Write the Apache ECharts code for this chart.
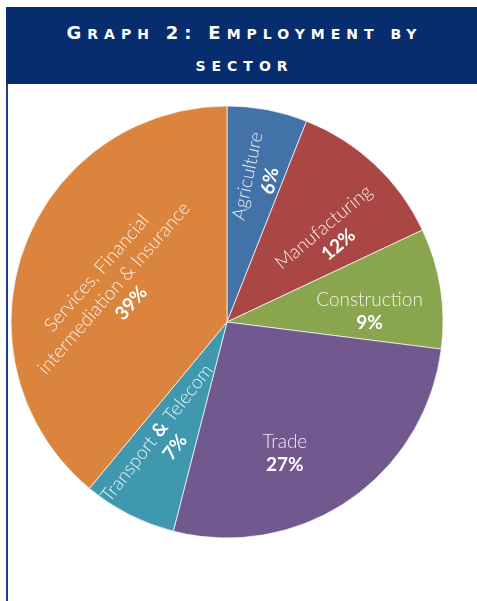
<!DOCTYPE html>
<html>
<head>
<meta charset="utf-8">
<script src="https://cdn.jsdelivr.net/npm/echarts@6/dist/echarts.min.js"></script>
<style>
  body { margin: 0; background: #fff; }
  #head {
    position: absolute; left: 6px; top: 7px; width: 471px; height: 77px;
    box-sizing: border-box; padding-top: 10px; padding-left: 6px;
    background: #082d6e; color: #fff; text-align: center;
    font-family: "DejaVu Sans"; font-weight: bold;
    font-size: 14px; text-transform: uppercase; letter-spacing: 6px; line-height: 32px;
  }
  #head .c { font-size: 18px; }
  #edge { position: absolute; left: 6px; top: 84px; width: 2px; height: 517px; background: #1a3f8f; }
  #main { position: absolute; left: 0; top: 0; width: 477px; height: 601px; }
</style>
</head>
<body>
<div id="main"></div>
<div id="head"><span class="c">G</span>raph <span class="c">2:</span> <span class="c">E</span>mployment by<br>sector</div>
<div id="edge"></div>
<script>
// sectors, clockwise from the top
var sectors = ['Agriculture', 'Manufacturing', 'Construction', 'Trade', 'Transport & Telecom', 'Services, Financial intermediation & Insurance'];
var shares = [6, 12, 9, 27, 7, 39];
var colors = ['#4272a8', '#aa4644', '#89a54e', '#71588f', '#4098af', '#db843d'];
// label text lines (rich text) for each slice
var nameLines = [
  ['{n|Agriculture}'],
  ['{n|Manufacturing}'],
  ['{n|Construction}'],
  ['{n|Trade}'],
  ['{n|Transport }{b|&}{n| Telecom}'],
  ['{n|Services, Financial}', '{n|intermediation & Insurance}']
];
// label placement: rotation, angle (deg clockwise from top) and distance from centre
var labelRotate = [78, 40, 0, 0, 52, 49];
var labelAngle = [12.5, 50.4, 85.6, 156.3, 207.3, 286.7];
var labelDist = [147, 135, 143, 144, 133, 118];

var CX = 227, CY = 322;

var chart = echarts.init(document.getElementById('main'));

var data = sectors.map(function (s, i) {
  return {
    name: s,
    value: shares[i],
    itemStyle: { color: colors[i] },
    label: { rotate: labelRotate[i] }
  };
});

chart.setOption({
  animation: false,
  series: [{
    type: 'pie',
    center: [CX, CY],
    radius: [0, 216],
    startAngle: 90,
    clockwise: true,
    data: data,
    itemStyle: { borderColor: 'rgba(255,255,255,0.7)', borderWidth: 1 },
    emphasis: { disabled: true },
    label: {
      show: true,
      position: 'inside',
      align: 'center',
      verticalAlign: 'middle',
      formatter: function (p) {
        var lines = nameLines[p.dataIndex].slice();
        lines.push('{p|' + p.value + '%}');
        return lines.join('\n');
      },
      rich: {
        n: { fontFamily: 'Lato', fontWeight: 300, fontSize: 19, color: 'rgba(255,255,255,0.88)', lineHeight: 23 },
        b: { fontFamily: 'Lato', fontWeight: 'bold', fontSize: 19, color: '#fff', lineHeight: 23 },
        p: { fontFamily: 'Lato', fontWeight: 'bold', fontSize: 19, color: '#fff', lineHeight: 23 }
      }
    },
    labelLine: { show: false },
    labelLayout: function (p) {
      var a = labelAngle[p.dataIndex] * Math.PI / 180;
      var d = labelDist[p.dataIndex];
      return {
        x: CX + d * Math.sin(a),
        y: CY - d * Math.cos(a),
        align: 'center',
        verticalAlign: 'middle'
      };
    }
  }]
});
</script>
</body>
</html>
